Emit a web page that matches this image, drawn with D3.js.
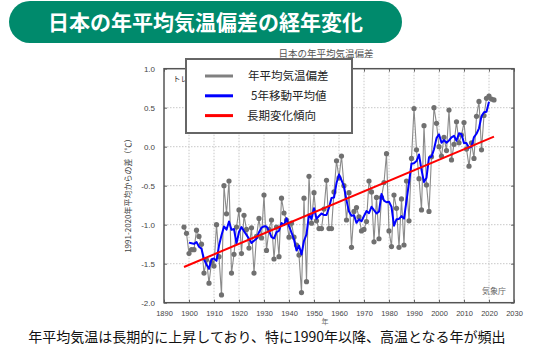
<!DOCTYPE html>
<html><head><meta charset="utf-8">
<script src="https://cdn.jsdelivr.net/npm/d3@7"></script>
<style>
html,body{margin:0;padding:0;background:#fff;}
svg{display:block;font-family:"Noto Sans CJK JP","Noto Sans",sans-serif;}
</style></head>
<body>
<svg id="chart" width="544" height="360"></svg>
<script>
// ---- data ----
const startYear = 1898;
const anomalies = [
 -1.03,-1.11,-1.37,-1.32,-1.32,-1.07,-1.15,-1.25,-1.62,-1.45, // 1898-1907
 -1.75,-1.48,-1.53,-1.00,-1.41,-1.90,-0.50,-0.86,-0.44,-1.62, // 1908-1917
 -1.38,-1.03,-0.81,-1.37,-0.88,-1.06,-1.30,-1.04,-1.62,-1.15, // 1918-1927
 -0.92,-1.17,-0.62,-1.33,-1.06,-0.94,-1.44,-1.03,-1.41,-0.66, // 1928-1937
 -0.85,-0.94,-1.16,-0.98,-1.16,-1.26,-1.39,-1.87,-0.66,-1.73, // 1938-1947
 -0.38,-0.98,-0.59,-0.95,-1.05,-1.05,-0.80,-0.43,-1.05,-1.05, // 1948-1957
 -0.58,-0.18,-0.40,-0.12,-0.50,-0.94,-0.59,-1.29,-0.83,-0.78, // 1958-1967
 -0.90,-1.08,-1.06,-0.96,-0.44,-0.58,-1.22,-0.65,-1.18,-0.65, // 1968-1977
 -0.46,-0.09,-1.08,-1.28,-0.62,-0.79,-1.29,-0.67,-1.26,-0.44, // 1978-1987
 -0.95,-0.15, 0.49,-0.04,-0.41,-0.81, 0.27,-0.49,-0.83,-0.13, // 1988-1997
  0.50, 0.30, 0.00,-0.12, 0.12,-0.05, 0.47,-0.17, 0.03, 0.32, // 1998-2007
  0.05, 0.15, 0.31,-0.03,-0.25, 0.05,-0.15, 0.39, 0.58,-0.04, // 2008-2017
  0.40, 0.62, 0.65, 0.61, 0.60                                 // 2018-2022
];
const years = anomalies.map((_, i) => startYear + i);
const xTicks = [1890,1900,1910,1920,1930,1940,1950,1960,1970,1980,1990,2000,2010,2020,2030];
const yTicks = [1.0,0.5,0.0,-0.5,-1.0,-1.5,-2.0];
const titleText = "日本の年平均気温偏差の経年変化";
const subTitle = "日本の年平均気温偏差";
const legendLabels = ["年平均気温偏差","5年移動平均値","長期変化傾向"];
const yAxisLabel = "1991-2020年平均からの差（℃）";
const xAxisLabel = "年";
const trendNote = "トレンド=1.30（℃/100年）";
const sourceLabel = "気象庁";
const caption = "年平均気温は長期的に上昇しており、特に1990年以降、高温となる年が頻出";

// derived series: 5-year centered moving average, linear trend
const series = years.map((yr, i) => ({year: yr, v: anomalies[i]}));
const moving = [];
for (let i = 2; i < series.length - 2; i++) {
  moving.push({year: series[i].year, v: d3.mean(series.slice(i-2, i+3), d => d.v)});
}
const mx = d3.mean(years), my = d3.mean(anomalies);
const slope = d3.sum(series, d => (d.year-mx)*(d.v-my)) / d3.sum(series, d => (d.year-mx)**2);
const trend = [years[0], years[years.length-1]].map(yr => ({year: yr, v: my + slope*(yr-mx)}));

// ---- drawing ----
const svg = d3.select("#chart");
const L = 164, R = 514, T = 68.7, B = 302.7;
const x = d3.scaleLinear().domain([1890, 2030]).range([L, R]);
const y = d3.scaleLinear().domain([-2, 1]).range([B, T]);

// title banner
svg.append("rect").attr("x", 9).attr("y", 1).attr("width", 393).attr("height", 42)
  .attr("rx", 21).attr("fill", "#008A6C");
svg.append("text").attr("x", 205.5).attr("y", 30).attr("text-anchor", "middle")
  .attr("fill", "#fff").attr("font-size", 21).attr("font-weight", "bold").text(titleText);

svg.append("text").attr("x", 326).attr("y", 57).attr("text-anchor", "middle")
  .attr("fill", "#555").attr("font-size", 9.5).text(subTitle);

// grid
const g = svg.append("g");
g.selectAll(".vg").data(xTicks.slice(1, -1)).join("line")
  .attr("x1", d => x(d)).attr("x2", d => x(d)).attr("y1", T).attr("y2", B)
  .attr("stroke", "#c8c8c8").attr("stroke-width", 1).attr("stroke-dasharray", "1.5,1.5");
g.selectAll(".hg").data(yTicks.slice(1, -1)).join("line")
  .attr("x1", L).attr("x2", R).attr("y1", d => y(d)).attr("y2", d => y(d))
  .attr("stroke", "#c8c8c8").attr("stroke-width", 1).attr("stroke-dasharray", "1.5,1.5");

// axes
const fmt = d => d.toFixed(1);
const ax = svg.append("g").attr("transform", `translate(${L},0)`)
  .call(d3.axisLeft(y).tickValues(yTicks).tickFormat(fmt).tickSize(-3).tickPadding(9));
const axR = svg.append("g").attr("transform", `translate(${R},0)`)
  .call(d3.axisRight(y).tickValues(yTicks).tickFormat("").tickSize(-3));
const axB = svg.append("g").attr("transform", `translate(0,${B})`)
  .call(d3.axisBottom(x).tickValues(xTicks).tickFormat(d3.format("d")).tickSize(-3).tickPadding(8));
const axT = svg.append("g").attr("transform", `translate(0,${T})`)
  .call(d3.axisTop(x).tickValues(xTicks).tickFormat("").tickSize(-3));
[ax, axR, axB, axT].forEach(a => {
  a.select(".domain").remove();
  a.selectAll(".tick line").attr("stroke", "#666");
  a.selectAll("text").attr("fill", "#444").attr("font-size", 7.5)
    .attr("font-family", "'Liberation Sans', Arial, sans-serif");
});
ax.selectAll("text").attr("font-size", 8);

// frame
svg.append("rect").attr("x", L).attr("y", T).attr("width", R - L).attr("height", B - T)
  .attr("fill", "none").attr("stroke", "#555").attr("stroke-width", 1.5);

// axis labels
svg.append("text").attr("transform", `translate(131,${(T+B)/2 + 8}) rotate(-90)`)
  .attr("text-anchor", "middle").attr("fill", "#444").attr("font-size", 8).text(yAxisLabel);
svg.append("text").attr("x", 325).attr("y", 324).attr("text-anchor", "middle")
  .attr("fill", "#666").attr("font-size", 7).text(xAxisLabel);
svg.append("text").attr("x", 506).attr("y", 294).attr("text-anchor", "end")
  .attr("fill", "#666").attr("font-size", 8).text(sourceLabel);
svg.append("text").attr("x", 173).attr("y", 82).attr("fill", "#333").attr("font-size", 7.5).text(trendNote);

// annual series
svg.append("path").datum(series)
  .attr("d", d3.line().x(d => x(d.year)).y(d => y(d.v)))
  .attr("fill", "none").attr("stroke", "#8a8a8a").attr("stroke-width", 1.1);
svg.selectAll(".pt").data(series).join("circle")
  .attr("cx", d => x(d.year)).attr("cy", d => y(d.v)).attr("r", 2.6).attr("fill", "#707070");
// moving average
svg.append("path").datum(moving)
  .attr("d", d3.line().x(d => x(d.year)).y(d => y(d.v)))
  .attr("fill", "none").attr("stroke", "#0000ff").attr("stroke-width", 2).attr("stroke-linejoin", "round");
// trend
svg.append("path").datum(trend)
  .attr("d", d3.line().x(d => x(d.year)).y(d => y(d.v)))
  .attr("fill", "none").attr("stroke", "#ff0000").attr("stroke-width", 2);

// legend
const lg = svg.append("g");
lg.append("rect").attr("x", 186).attr("y", 59).attr("width", 166).attr("height", 74)
  .attr("fill", "#fff").attr("stroke", "#666").attr("stroke-width", 2);
const legColors = ["#808080", "#0000ff", "#ff0000"];
const legX = [248, 251, 247];
legendLabels.forEach((lab, i) => {
  const yy = 76 + i * 19.8;
  lg.append("line").attr("x1", 205).attr("x2", 233).attr("y1", yy).attr("y2", yy)
    .attr("stroke", legColors[i]).attr("stroke-width", 3);
  lg.append("text").attr("x", legX[i]).attr("y", yy + 4).attr("fill", "#222")
    .attr("font-size", 11.5).text(lab);
});

// caption
svg.append("text").attr("x", 267).attr("y", 342).attr("text-anchor", "middle")
  .attr("fill", "#111").attr("font-size", 14).text(caption);
</script>
</body></html>
